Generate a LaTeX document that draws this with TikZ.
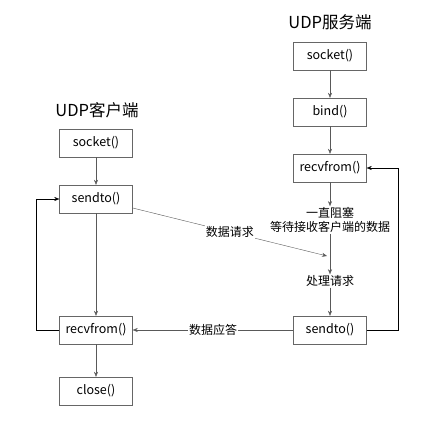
\documentclass[tikz,border=0pt]{standalone}
\usepackage{fontspec}
\setmainfont{Noto Sans CJK SC}
\usetikzlibrary{arrows.meta}

\begin{document}
\begin{tikzpicture}[x=1pt,y=-1pt,
    box/.style={draw=black!60, minimum width=73pt, minimum height=28pt,
      inner sep=0pt, font=\fontsize{12.5}{14}\selectfont},
    note/.style={inner sep=1pt, font=\fontsize{12}{14}\selectfont, align=center},
    title/.style={inner sep=0pt, font=\fontsize{16.5}{19}\selectfont},
    flow/.style={draw=black!65, -{Stealth[length=5pt,width=4pt]}},
    loop/.style={draw=black, -{Stealth[length=5pt,width=4pt]}}]
    \useasboundingbox (0,0) rectangle (429,423);
    % client side
    \node[title] (CT) at (97,110) {UDP客户端};
    \node[box] (Csock) at (96,143) {socket()};
    \node[box] (Csend) at (96,199) {sendto()};
    \node[box] (Crecv) at (96,330) {recvfrom()};
    \node[box] (Cclose) at (96,391) {close()};
    % server side
    \node[title] (ST) at (330,22) {UDP服务端};
    \node[box] (Ssock) at (330,56) {socket()};
    \node[box] (Sbind) at (330,112) {bind()};
    \node[box] (Srecv) at (330,168) {recvfrom()};
    \node[note] (Sblock) at (330,220) {一直阻塞\\等待接收客户端的数据};
    \node[note] (Sproc) at (330,281) {处理请求};
    \node[box] (Ssend) at (330,330) {sendto()};
    \coordinate (hit) at (327,256);
    \coordinate (L) at (36,0);
    \coordinate (R) at (398,0);
    % client flow
    \draw[flow] (Csock) -- (Csend);
    \draw[flow] (Csend) -- (Crecv);
    \draw[flow] (Crecv) -- (Cclose);
    \draw[loop] (Crecv.west) -- (L |- Crecv) -- (L |- Csend) -- (Csend.west);
    % server flow
    \draw[flow] (Ssock) -- (Sbind);
    \draw[flow] (Sbind) -- (Srecv);
    \draw[flow] (Srecv) -- (Sblock);
    \draw[flow] (Sblock) -- (Sproc);
    \draw[flow] (Sproc) -- (Ssend);
    \draw[loop] (Ssend.east) -- (R |- Ssend) -- (R |- Srecv) -- (Srecv.east);
    % messages
    \draw[flow] (Csend.east |- 0,208) -- node[note, fill=white, pos=0.5] {数据请求} (hit);
    \draw[flow] (Ssend) -- node[note, fill=white, pos=0.5] {数据应答} (Crecv);
\end{tikzpicture}
\end{document}
